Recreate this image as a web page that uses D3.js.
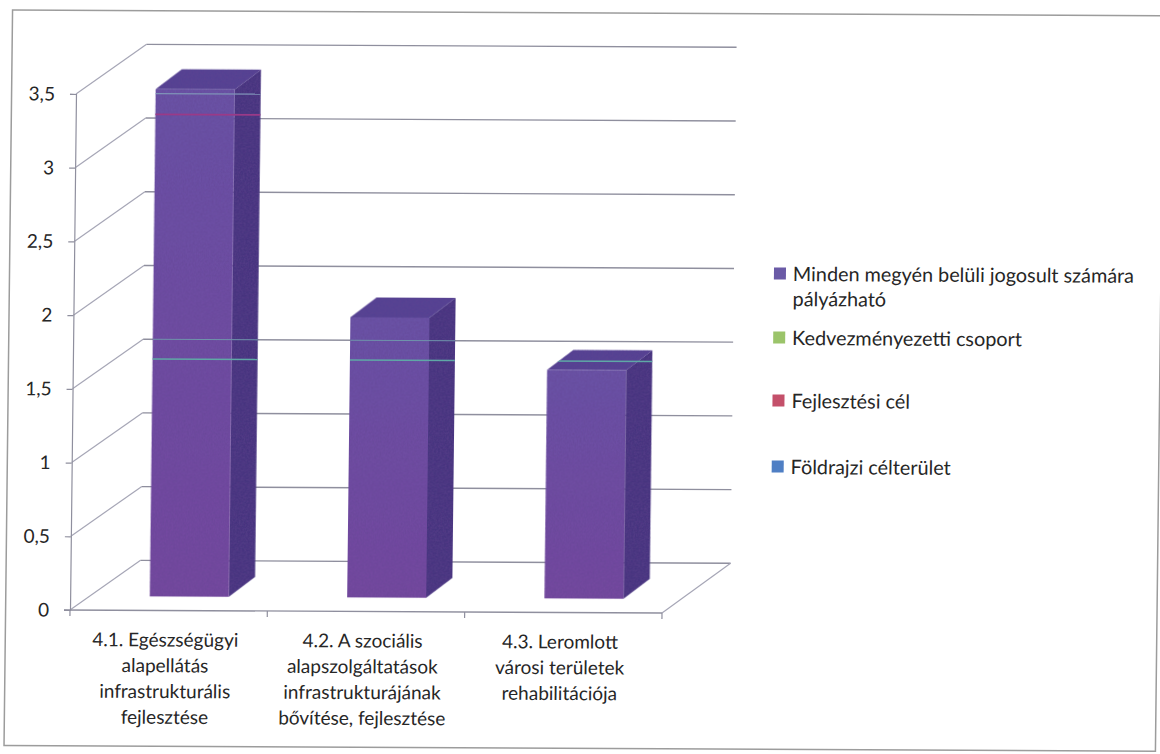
<!DOCTYPE html>
<html>
<head>
<meta charset="utf-8">
<script src="https://cdn.jsdelivr.net/npm/d3@7"></script>
<style>
html,body{margin:0;padding:0;background:#fff;}
svg{display:block;}
text{font-family:Lato,"Open Sans",sans-serif;fill:#262626;}
</style>
</head>
<body>
<svg id="chart" width="1160" height="754"></svg>
<script>
const categories = ["4.1","4.2","4.3"];
const categoryLabels = [
  ["4.1. Egészségügyi","alapellátás","infrastrukturális","fejlesztése"],
  ["4.2. A szociális","alapszolgáltatások","infrastrukturájának","bővítése, fejlesztése"],
  ["4.3. Leromlott","városi területek","rehabilitációja"]
];
const purpleValues = [3.44, 1.9, 1.55];
const greenTraceValues = [1.61, 1.61, 1.61];
const paleTraceValues = [3.41, null, null];
const redTraceValues = [3.27, null, null];
const wallTraceValue = 1.5;
const yTicks = [0,0.5,1,1.5,2,2.5,3,3.5];
const legendLabels = [
  ["Minden megyén belüli jogosult számára","pályázható"],
  ["Kedvezményezetti csoport"],
  ["Fejlesztési cél"],
  ["Földrajzi célterület"]
];
const legendColors = ["#6a5aa6","#9bc46a","#c4506a","#4f7fc4"];
const legendBaselines = [277.5, 341.5, 404.5, 470.5];

const svg = d3.select("#chart");
// the photographed page is slightly skewed: keep it as one matrix around the axis origin
const sx = -0.0116, sy = 0.005;
const root = svg.append("g")
  .attr("transform", `matrix(1,${sy},${sx},1,${-sx*610},${-sy*70})`);

const x = d3.scaleBand().domain(categories).range([70,662]);
const y = d3.scaleLinear().domain([0,3.5]).range([610,94]);
const wallDx = 70, wallDy = -50, wallRight = 730;
const barW = 79, barOffX = 20.5, barOffY = -14, barDx = 26, barDy = -20;

const defs = svg.append("defs");
const grad = defs.append("linearGradient").attr("id","face").attr("x1",0).attr("x2",0).attr("y1",0).attr("y2",1);
grad.append("stop").attr("offset","0%").attr("stop-color","#6a52a6");
grad.append("stop").attr("offset","100%").attr("stop-color","#74489f");
// printed-and-scanned mottling of the bar faces
const mottle = defs.append("filter").attr("id","mottle")
  .attr("x","-2%").attr("y","-2%").attr("width","104%").attr("height","104%");
mottle.append("feTurbulence").attr("type","fractalNoise").attr("baseFrequency",0.55)
  .attr("numOctaves",2).attr("seed",4).attr("result","n");
mottle.append("feColorMatrix").attr("in","n").attr("type","matrix")
  .attr("values","0 0 0 0 0.12  0 0 0 0 0.06  0 0 0 0 0.28  0.9 0 0 0 -0.28").attr("result","d");
mottle.append("feComposite").attr("in","d").attr("in2","SourceGraphic").attr("operator","in").attr("result","m");
mottle.append("feMerge").selectAll("feMergeNode").data(["SourceGraphic","m"]).join("feMergeNode").attr("in",d=>d);

// frame
root.append("rect").attr("x",5.6).attr("y",10.4).attr("width",1151.4).attr("height",735.4)
  .attr("fill","none").attr("stroke","#9c9c9c").attr("stroke-width",1.5);

const gridColor = "#8f8f9e";
// gridlines
const grid = root.append("g");
yTicks.forEach(v => {
  grid.append("line")
    .attr("x1",70).attr("y1",y(v)).attr("x2",70+wallDx).attr("y2",y(v)+wallDy)
    .attr("stroke","#a6a6b6").attr("stroke-width",1.2);
  grid.append("line")
    .attr("x1",70+wallDx).attr("y1",y(v)+wallDy).attr("x2",wallRight).attr("y2",y(v)+wallDy)
    .attr("stroke",gridColor).attr("stroke-width",1.4);
});
// floor right edge
grid.append("line").attr("x1",x.range()[1]).attr("y1",y(0))
  .attr("x2",wallRight).attr("y2",y(0)+wallDy)
  .attr("stroke","#a6a6b6").attr("stroke-width",1.2);

// axes
const yAxis = root.append("g").attr("transform","translate(70,0)")
  .call(d3.axisLeft(y).tickValues(yTicks).tickSize(6).tickPadding(15)
    .tickFormat(d => String(d).replace(".",",")));
yAxis.selectAll("text").style("font-size","19px");
yAxis.selectAll("line,path").attr("stroke",gridColor).attr("stroke-width",1.2);

root.append("line").attr("x1",64).attr("y1",y(0)).attr("x2",x.range()[1]).attr("y2",y(0))
  .attr("stroke",gridColor).attr("stroke-width",1.4);
const boundaries = categories.map(c => x(c)+x.bandwidth()).concat([x.range()[0]]);
boundaries.forEach(b => root.append("line").attr("x1",b).attr("x2",b)
  .attr("y1",y(0)).attr("y2",y(0)+6).attr("stroke",gridColor).attr("stroke-width",1.2));

// bars
const barLeft = i => x(categories[i]) + (x.bandwidth()-barW)/2 + barOffX;
const faceY = v => y(v) + barOffY;
const pts = a => a.map(p => p.join(",")).join(" ");

purpleValues.forEach((v,i) => {
  const l = barLeft(i), r = l+barW, t = faceY(v), b = faceY(0);
  const g = root.append("g").attr("filter","url(#mottle)");
  g.append("polygon").attr("points",pts([[r,t],[r+barDx,t+barDy],[r+barDx,b+barDy],[r,b]])).attr("fill","#46357f");
  g.append("polygon").attr("points",pts([[l,t],[l+barDx,t+barDy],[r+barDx,t+barDy],[r,t]])).attr("fill","#554393");
  g.append("rect").attr("x",l).attr("y",t).attr("width",barW).attr("height",b-t).attr("fill","url(#face)");
  const clip = defs.append("clipPath").attr("id","bar"+i);
  clip.append("polygon").attr("points",pts([[l,b],[l,t],[l+barDx,t+barDy],[r+barDx,t+barDy],[r+barDx,b+barDy],[r,b]]));
  const traces = root.append("g").attr("clip-path",`url(#bar${i})`);
  const trace = (py,color,w) => traces.append("line").attr("x1",l-1).attr("x2",r+barDx+1)
      .attr("y1",py).attr("y2",py).attr("stroke",color).attr("stroke-width",w);
  trace(y(wallTraceValue)+wallDy, "#6f93ab", 1.2);
  trace(faceY(greenTraceValues[i]), "#5fa8a6", 1.6);
  if (paleTraceValues[i] !== null) trace(faceY(paleTraceValues[i]), "#7f93b8", 1.2);
  if (redTraceValues[i] !== null) trace(faceY(redTraceValues[i]), "#9a3a88", 1.8);
});

// category labels
categoryLabels.forEach((lines,i) => {
  const cx = x(categories[i]) + x.bandwidth()/2 - 3;
  const t = root.append("text").attr("text-anchor","middle").style("font-size","19px");
  lines.forEach((s,k) => t.append("tspan").attr("x",cx).attr("y",646+k*25.8).text(s));
});

// legend
legendLabels.forEach((lines,i) => {
  const base = legendBaselines[i];
  root.append("rect").attr("x",770).attr("y",base-13.5).attr("width",12).attr("height",12)
    .attr("fill",legendColors[i]);
  const t = root.append("text").style("font-size","19.8px");
  lines.forEach((s,k) => t.append("tspan").attr("x",789).attr("y",base+k*25).text(s));
});
</script>
</body>
</html>
